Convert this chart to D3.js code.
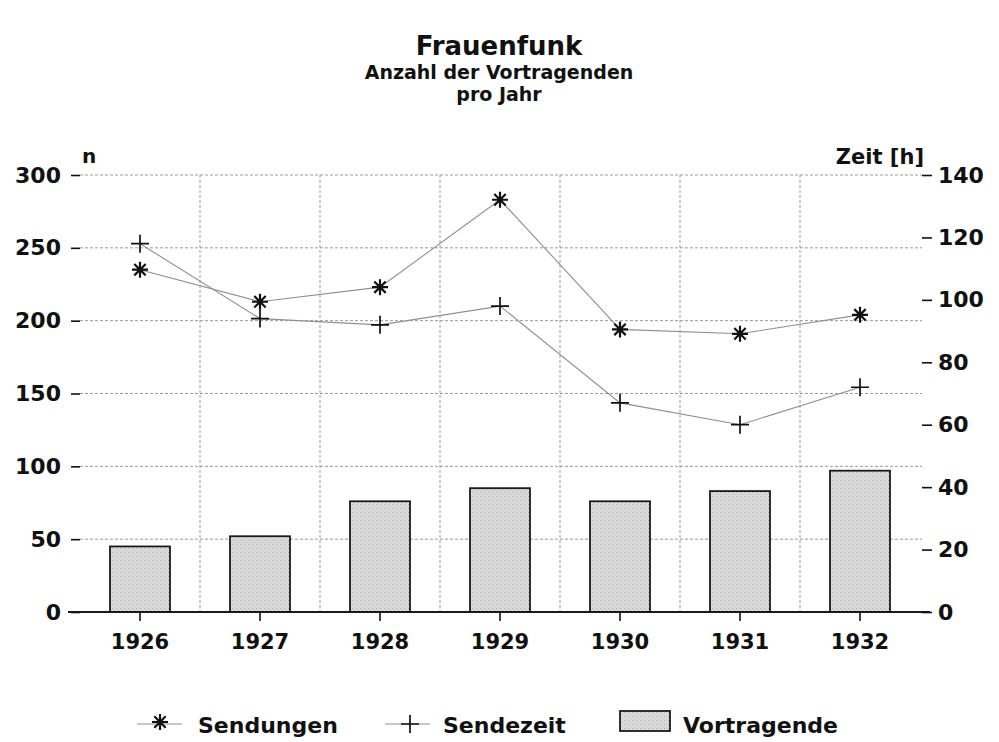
<!DOCTYPE html>
<html>
<head>
<meta charset="utf-8">
<script src="https://cdn.jsdelivr.net/npm/d3@7"></script>
<style>
body { margin: 0; background: #fff; }
text { font-family: "DejaVu Sans", sans-serif; font-weight: bold; fill: #111; }
.grid line { stroke: #9a9a9a; stroke-width: 1; stroke-dasharray: 3,2; }
.axis line { stroke: #111; stroke-width: 1.6; }
.axis path { display: none; }
</style>
</head>
<body>
<script>
// Data
var years = ["1926", "1927", "1928", "1929", "1930", "1931", "1932"];
var vortragende = [45, 52, 76, 85, 76, 83, 97];      // n, bars
var sendungen = [235, 213, 223, 283, 194, 191, 204];  // n, asterisks
var sendezeit = [118, 94, 92, 98, 67, 60, 72];       // hours, right axis
var leftTicks = [0, 50, 100, 150, 200, 250, 300];
var rightTicks = [0, 20, 40, 60, 80, 100, 120, 140];

// Set the dimensions of the canvas / plot area
var width = 999, height = 742;
var plotLeft = 80, plotRight = 920, plotTop = 175, plotBottom = 612;

var svg = d3.select("body")
    .append("svg")
        .attr("width", width)
        .attr("height", height);

// Stippled grey fill for the bars
var pat = svg.append("defs").append("pattern")
    .attr("id", "stipple")
    .attr("width", 4).attr("height", 4)
    .attr("patternUnits", "userSpaceOnUse");
pat.append("rect").attr("width", 4).attr("height", 4).attr("fill", "#dadada");
pat.append("rect").attr("x", 0).attr("y", 0).attr("width", 1).attr("height", 1).attr("fill", "#a8a8a8");
pat.append("rect").attr("x", 2).attr("y", 2).attr("width", 1).attr("height", 1).attr("fill", "#b8b8b8");

// Set the ranges
var x = d3.scaleBand()
    .domain(years)
    .range([plotLeft, plotRight])
    .paddingInner(0.5)
    .paddingOuter(0.25);
var y = d3.scaleLinear()
    .domain([0, 300])
    .range([plotBottom, plotTop]);
var yR = d3.scaleLinear()
    .domain([0, 140])
    .range([plotBottom, plotTop]);
var cx = function(d, i) { return x(years[i]) + x.bandwidth() / 2; };

// Title
svg.append("text")
    .attr("x", 499).attr("y", 55)
    .attr("text-anchor", "middle")
    .style("font-size", "26px")
    .text("Frauenfunk");
svg.append("text")
    .attr("x", 499).attr("y", 79)
    .attr("text-anchor", "middle")
    .style("font-size", "19px")
    .text("Anzahl der Vortragenden");
svg.append("text")
    .attr("x", 499).attr("y", 101)
    .attr("text-anchor", "middle")
    .style("font-size", "19px")
    .text("pro Jahr");

// Gridlines
var grid = svg.append("g").attr("class", "grid");
grid.selectAll(".h")
    .data(leftTicks.slice(1))
    .enter().append("line")
        .attr("x1", plotLeft).attr("x2", plotRight + 2)
        .attr("y1", function(d) { return y(d); })
        .attr("y2", function(d) { return y(d); });
grid.selectAll(".v")
    .data(years.slice(1))
    .enter().append("line")
        .attr("x1", function(d) { return x(d) - x.step() * 0.25; })
        .attr("x2", function(d) { return x(d) - x.step() * 0.25; })
        .attr("y1", plotTop).attr("y2", plotBottom);

// Bars
svg.selectAll(".bar")
    .data(vortragende)
    .enter().append("rect")
        .attr("x", function(d, i) { return x(years[i]); })
        .attr("width", x.bandwidth())
        .attr("y", function(d) { return y(d); })
        .attr("height", function(d) { return plotBottom - y(d); })
        .attr("fill", "url(#stipple)")
        .attr("stroke", "#1a1a1a")
        .attr("stroke-width", 1.8);

// Baseline
svg.append("line")
    .attr("x1", 68).attr("x2", 930)
    .attr("y1", plotBottom).attr("y2", plotBottom)
    .attr("stroke", "#1a1a1a")
    .attr("stroke-width", 1.8);

// Lines
var lineL = d3.line()
    .x(cx)
    .y(function(d) { return y(d); });
var lineR = d3.line()
    .x(cx)
    .y(function(d) { return yR(d); });
svg.append("path")
    .attr("d", lineL(sendungen))
    .attr("fill", "none")
    .attr("stroke", "#909090")
    .attr("stroke-width", 1.1);
svg.append("path")
    .attr("d", lineR(sendezeit))
    .attr("fill", "none")
    .attr("stroke", "#909090")
    .attr("stroke-width", 1.1);

// Markers
var star = "M0,-8V8M-8,0H8M-5.7,-5.7L5.7,5.7M-5.7,5.7L5.7,-5.7";
var plus = "M0,-9V9M-9,0H9";
svg.selectAll(".star")
    .data(sendungen)
    .enter().append("path")
        .attr("d", star)
        .attr("transform", function(d, i) { return "translate(" + cx(d, i) + "," + y(d) + ")"; })
        .attr("stroke", "#111")
        .attr("stroke-width", 2.2);
svg.selectAll(".plus")
    .data(sendezeit)
    .enter().append("path")
        .attr("d", plus)
        .attr("transform", function(d, i) { return "translate(" + cx(d, i) + "," + yR(d) + ")"; })
        .attr("stroke", "#111")
        .attr("stroke-width", 1.7);

// Axes
svg.append("g")
    .attr("class", "axis")
    .attr("transform", "translate(" + plotLeft + ",0)")
    .call(d3.axisLeft(y).tickValues(leftTicks).tickSize(9).tickPadding(10))
    .selectAll("text").style("font-size", "22px");
svg.append("g")
    .attr("class", "axis")
    .attr("transform", "translate(" + (plotRight + 2) + ",0)")
    .call(d3.axisRight(yR).tickValues(rightTicks).tickSize(10).tickPadding(6))
    .selectAll("text").style("font-size", "22px");
svg.append("g")
    .attr("class", "axis")
    .attr("transform", "translate(0," + plotBottom + ")")
    .call(d3.axisBottom(x).tickSize(9).tickPadding(13))
    .selectAll("text").style("font-size", "21px");

// Axis titles
svg.append("text")
    .attr("x", 82).attr("y", 163)
    .style("font-size", "20px")
    .text("n");
svg.append("text")
    .attr("x", 924).attr("y", 164)
    .attr("text-anchor", "end")
    .style("font-size", "21px")
    .text("Zeit [h]");

// Legend
var ly = 724;
var legend = svg.append("g");
legend.append("line")
    .attr("x1", 137).attr("x2", 182).attr("y1", ly).attr("y2", ly)
    .attr("stroke", "#909090");
legend.append("path")
    .attr("d", star)
    .attr("transform", "translate(160," + (ly - 2) + ")")
    .attr("stroke", "#111").attr("stroke-width", 2.2);
legend.append("text")
    .attr("x", 198).attr("y", 733)
    .style("font-size", "22px")
    .text("Sendungen");
legend.append("line")
    .attr("x1", 385).attr("x2", 430).attr("y1", ly).attr("y2", ly)
    .attr("stroke", "#909090");
legend.append("path")
    .attr("d", plus)
    .attr("transform", "translate(410," + ly + ")")
    .attr("stroke", "#111").attr("stroke-width", 1.7);
legend.append("text")
    .attr("x", 443).attr("y", 733)
    .style("font-size", "22px")
    .text("Sendezeit");
legend.append("rect")
    .attr("x", 620).attr("y", 711)
    .attr("width", 50).attr("height", 20)
    .attr("fill", "url(#stipple)")
    .attr("stroke", "#1a1a1a")
    .attr("stroke-width", 1.8);
legend.append("text")
    .attr("x", 683).attr("y", 733)
    .style("font-size", "22px")
    .text("Vortragende");
</script>
</body>
</html>
